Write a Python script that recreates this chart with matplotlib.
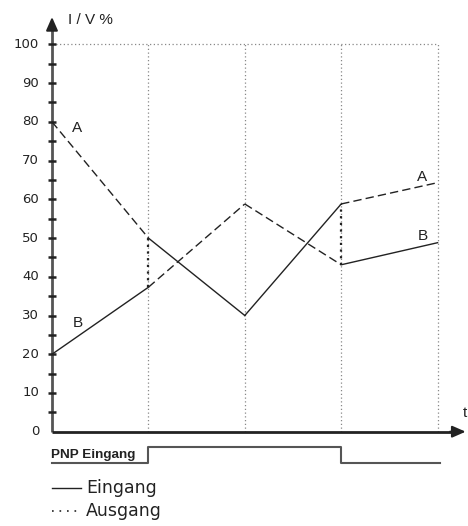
import matplotlib
matplotlib.use("Agg")
import matplotlib.pyplot as plt

# ---- data ----
t = [0, 1, 2, 3, 4]
upper = [80, 50, 30, 58.8, 64.3]
upper_styles = ["--", "-", "-", "--"]
lower = [20, 37.3, 58.8, 43.1, 48.8]
lower_styles = ["-", "--", "--", "-"]
y_ticks = [0, 10, 20, 30, 40, 50, 60, 70, 80, 90, 100]
y_minor = [5, 15, 25, 35, 45, 55, 65, 75, 85, 95]
pnp_t = [0, 1, 1, 3, 3, 4.03]
pnp_level = [0, 0, 1, 1, 0, 0]

plt.rcParams['font.family'] = ['Liberation Sans', 'DejaVu Sans']

W, H = 468, 526
fig = plt.figure(figsize=(W / 100, H / 100), dpi=100)
ax = fig.add_axes([0, 0, 1, 1])
px_x = 96.4
px_y = 3.873
x0p, y0p = 52, 431.7
ax.set_xlim(-x0p / px_x, (W - x0p) / px_x)
ax.set_ylim((y0p - H) / px_y, y0p / px_y)
ax.axis("off")

txt = "#222222"

# grid
for xv in t[1:]:
    ax.plot([xv, xv], [0, 100], color="#888888", lw=0.9, ls=(0, (1, 2)))
ax.plot([0, 4], [100, 100], color="#888888", lw=0.9, ls=(0, (1, 2)))

# axes lines
ax.plot([0, 0], [0, 104], color="#555555", lw=2.0, solid_capstyle="butt")
ax.annotate("", xy=(0, 107.8), xytext=(0, 103),
            arrowprops=dict(arrowstyle="-|>,head_width=0.35,head_length=0.8",
                            color="#222222", lw=1.5))
ax.plot([0, 4.15], [0, 0], color="#222222", lw=2.0, solid_capstyle="butt")
ax.annotate("", xy=(4.32, 0), xytext=(4.1, 0),
            arrowprops=dict(arrowstyle="-|>,head_width=0.35,head_length=0.8",
                            color="#222222", lw=1.5))

# ticks
tick_half = 3.8 / px_x
for yv in y_ticks[1:] + y_minor:
    ax.plot([-tick_half, tick_half], [yv, yv], color="#222222", lw=1.8,
            solid_capstyle="butt")
for yv in y_ticks:
    ax.text(-13 / px_x, yv, str(yv), ha="right", va="center",
            fontsize=9.5, color=txt, family="DejaVu Sans")

# series segments
for i in range(len(t) - 1):
    ax.plot(t[i:i + 2], upper[i:i + 2], color="#222222", lw=1.0,
            ls=upper_styles[i] if upper_styles[i] == "-" else (0, (6, 3)))
    ax.plot(t[i:i + 2], lower[i:i + 2], color="#222222", lw=1.0,
            ls=lower_styles[i] if lower_styles[i] == "-" else (0, (6, 3)))

# dotted connectors
ax.plot([1, 1], [lower[1], upper[1]], color="#222222", lw=1.6, ls=(0, (1, 2)))
ax.plot([3, 3], [lower[3], upper[3]], color="#222222", lw=1.6, ls=(0, (1, 2)))

# labels
ax.text(0.26, 78.4, "A", ha="center", va="center", fontsize=11, color=txt)
ax.text(0.27, 28, "B", ha="center", va="center", fontsize=11, color=txt)
ax.text(3.84, 65.8, "A", ha="center", va="center", fontsize=11, color=txt)
ax.text(3.85, 50.5, "B", ha="center", va="center", fontsize=11, color=txt)
ax.text(0.17, 106.2, "I / V %", ha="left", va="center", fontsize=11, color=txt)
ax.text(4.28, 4.8, "t", ha="center", va="center", fontsize=11, color=txt)

# PNP signal
low_y = (y0p - 463) / px_y
high_y = (y0p - 447) / px_y
sig_y = [low_y + (high_y - low_y) * v for v in pnp_level]
ax.plot(pnp_t, sig_y, color="#555555", lw=1.5)
ax.text(-0.01, (y0p - 455) / px_y, "PNP Eingang", ha="left", va="center",
        fontsize=9.7, fontweight="bold", color=txt)

# legend
ly1 = (y0p - 488) / px_y
ly2 = (y0p - 511) / px_y
ax.plot([0, 29 / px_x], [ly1, ly1], color="#222222", lw=1.0)
ax.text(34 / px_x, ly1, "Eingang", ha="left", va="center", fontsize=12.5,
        color=txt, family="DejaVu Sans")
ax.plot([0, 29 / px_x], [ly2, ly2], color="#222222", lw=1.2, ls=(0, (1, 3.5)))
ax.text(34 / px_x, ly2, "Ausgang", ha="left", va="center", fontsize=12.5,
        color=txt, family="DejaVu Sans")

fig.savefig("out.png", dpi=100)
